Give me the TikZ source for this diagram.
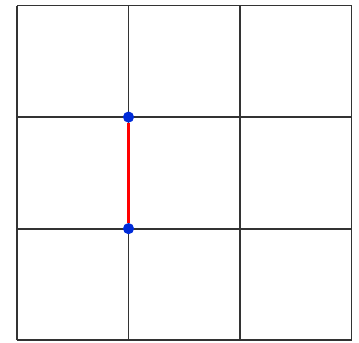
\documentclass[tikz,border=0pt]{standalone}
\usepackage{tikz}
\usetikzlibrary{positioning,calc}

\begin{document}
\begin{tikzpicture}[
  gridln/.style={draw=black!80, line width=1.4pt},
  dot/.style   ={circle, fill=blue!80!cyan!85!black, inner sep=0pt, minimum size=0.3cm},
  edge/.style  ={draw=red, line width=2.6pt}]

%% ── Page frame (keeps the reference margins) ─────────────────────
\useasboundingbox (-0.457,-0.054) rectangle (9.20,9.15);

%% ── 3 x 3 grid ───────────────────────────────────────────────────
\draw[gridln] (0,0) grid[step=3] (9,9);

%% ── Marked vertices and the edge between them ────────────────────
\node[dot] (top) at (3,6) {};
\node[dot] (bot) at (3,3) {};
\draw[edge] (top) -- (bot);
\end{tikzpicture}
\end{document}
